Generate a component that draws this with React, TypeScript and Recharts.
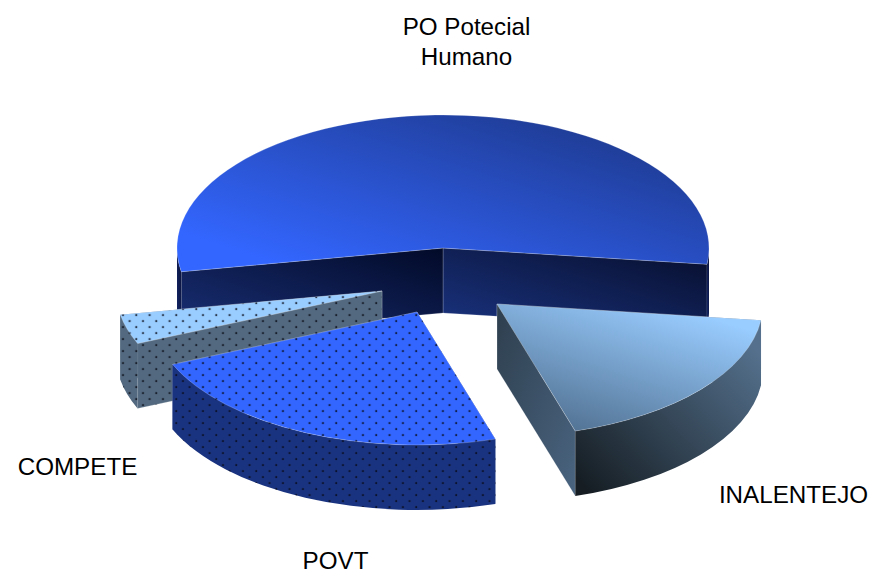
import React from 'react';
import { PieChart, Pie, Cell } from 'recharts';

const categories = ['PO Potecial Humano', 'COMPETE', 'POVT', 'INALENTEJO'];
const shares = [54.8, 3.6, 23.3, 18.3];

const chartData = categories.map((name, i) => ({ name, value: shares[i] }));

const DEPTH = 65;
const TILT = 0.5;

// how far each slice is pulled out of the pie, in pixels
const EXPLODE: Record<string, [number, number]> = {
  'PO Potecial Humano': [0, 0],
  COMPETE: [-61, 43],
  POVT: [-26, 64],
  INALENTEJO: [54, 56],
};

const SKIN: Record<string, any> = {
  'PO Potecial Humano': {
    top: [['#3366ff', '#1c3686'], [0.05, 0.8, 0.9, 0]],
    start: [['#1a3380', '#070e2c'], [0, 1, 1, 0]],
    end: [['#1a3078', '#020a28'], [0, 1, 1, 0]],
    outer: [['#14276c', '#0a1238'], [0, 1, 1, 0]],
    dots: false,
  },
  COMPETE: {
    top: [['#99ccff', '#99ccff'], [0, 0, 1, 0]],
    start: [['#53697f', '#53697f'], [0, 0, 1, 0]],
    end: [['#53697f', '#53697f'], [0, 0, 1, 0]],
    outer: [['#53697f', '#53697f'], [0, 0, 1, 0]],
    dots: true,
  },
  POVT: {
    top: [['#3366ff', '#3366ff'], [0, 0, 1, 0]],
    start: [['#1a3380', '#1a3380'], [0, 0, 1, 0]],
    end: [['#1a3380', '#1a3380'], [0, 0, 1, 0]],
    outer: [['#1a3380', '#1a3380'], [0, 0, 1, 0]],
    dots: true,
  },
  INALENTEJO: {
    top: [['#4f6f8f', '#99ccff'], [0.2, 1, 0.8, 0.1]],
    start: [['#4a6480', '#2e3f4e'], [1, 1, 0, 0]],
    end: [['#4a6480', '#2e3f4e'], [1, 1, 0, 0]],
    outer: [['#161e24', '#54708c'], [0.1, 1, 1, 0.2]],
    dots: false,
  },
};

const LABELS: Record<string, { x: number; y: number; lines: string[] }> = {
  'PO Potecial Humano': { x: 466.5, y: 35, lines: ['PO Potecial', 'Humano'] },
  COMPETE: { x: 77.5, y: 475, lines: ['COMPETE'] },
  POVT: { x: 335.5, y: 569, lines: ['POVT'] },
  INALENTEJO: { x: 793.5, y: 503, lines: ['INALENTEJO'] },
};

const Gradient = ({ id, spec }: any) => {
  const [stops, dir] = spec;
  return (
    <linearGradient id={id} x1={dir[0]} y1={dir[1]} x2={dir[2]} y2={dir[3]}>
      <stop offset="0%" stopColor={stops[0]} />
      <stop offset="100%" stopColor={stops[1]} />
    </linearGradient>
  );
};

// Extruded slice, built from the angles Recharts computed for the sector
const Slice3D = (props: any) => {
  const { cx, cy, outerRadius, startAngle, endAngle } = props;
  const name = props.name ?? props.payload?.name;
  const [dx, dy] = EXPLODE[name];
  const skin = SKIN[name];
  const key = categories.indexOf(name);
  const ox = cx + dx;
  const oy = cy + dy;
  const rx = outerRadius;
  const ry = outerRadius * TILT;

  const pt = (deg: number, drop = 0) => {
    const a = (deg * Math.PI) / 180;
    return `${ox + rx * Math.cos(a)} ${oy - ry * Math.sin(a) + drop}`;
  };
  const lo = Math.min(startAngle, endAngle);
  const hi = Math.max(startAngle, endAngle);

  const cut = (deg: number) =>
    `M${ox} ${oy}L${pt(deg)}L${pt(deg, DEPTH)}L${ox} ${oy + DEPTH}Z`;

  // the cut face reaching further down the screen sits in front
  const cuts = [
    { d: cut(lo), fill: `url(#start${key})`, near: -Math.sin((lo * Math.PI) / 180) },
    { d: cut(hi), fill: `url(#end${key})`, near: -Math.sin((hi * Math.PI) / 180) },
  ].sort((a, b) => a.near - b.near);

  const top = `M${ox} ${oy}L${pt(lo)}A${rx} ${ry} 0 ${hi - lo > 180 ? 1 : 0} 0 ${pt(hi)}Z`;

  // only the part of the rim on the near half of the ellipse shows
  const rims: string[] = [];
  [[-180, 0], [180, 360]].forEach(([a, b]) => {
    const s = Math.max(lo, a);
    const e = Math.min(hi, b);
    if (e > s) {
      rims.push(
        `M${pt(s)}A${rx} ${ry} 0 0 0 ${pt(e)}L${pt(e, DEPTH)}A${rx} ${ry} 0 0 1 ${pt(s, DEPTH)}Z`,
      );
    }
  });

  const edge = 'rgba(255,255,255,0.35)';
  return (
    <g>
      <defs>
        <Gradient id={`top${key}`} spec={skin.top} />
        <Gradient id={`start${key}`} spec={skin.start} />
        <Gradient id={`end${key}`} spec={skin.end} />
        <Gradient id={`outer${key}`} spec={skin.outer} />
        <pattern id={`dots${key}`} width={13.33} height={12} patternUnits="userSpaceOnUse">
          <circle cx={3} cy={3} r={1.5} fill="#0a0f1e" fillOpacity={0.22} />
          <circle cx={3} cy={3} r={0.85} fill="#05070f" />
          <circle cx={9.67} cy={9} r={1.5} fill="#0a0f1e" fillOpacity={0.22} />
          <circle cx={9.67} cy={9} r={0.85} fill="#05070f" />
        </pattern>
      </defs>
      {cuts.map((c) => (
        <g key={c.fill}>
          <path d={c.d} fill={c.fill} stroke={edge} strokeWidth={0.6} />
          {skin.dots && <path d={c.d} fill={`url(#dots${key})`} />}
        </g>
      ))}
      {rims.map((d, i) => (
        <path key={i} d={d} fill={`url(#outer${key})`} />
      ))}
      {skin.dots &&
        rims.map((d, i) => <path key={i} d={d} fill={`url(#dots${key})`} />)}
      <path d={top} fill={`url(#top${key})`} stroke={edge} strokeWidth={0.6} />
      {skin.dots && <path d={top} fill={`url(#dots${key})`} />}
    </g>
  );
};

const renderLabel = (props: any) => {
  const spot = LABELS[props.name ?? props.payload?.name];
  return (
    <text x={spot.x} y={spot.y} textAnchor="middle" fill="#000" fontSize={24.2} fontFamily="Liberation Sans">
      {spot.lines.map((line, i) => (
        <tspan key={line} x={spot.x} dy={i === 0 ? 0 : 30}>
          {line}
        </tspan>
      ))}
    </text>
  );
};

export default function App() {
  return (
    <div style={{ position: 'absolute', left: 0, top: 0, width: 874, height: 573, background: '#fff' }}>
      <PieChart width={874} height={573} margin={{ top: 0, right: 0, bottom: 0, left: 0 }}>
        <Pie
          data={chartData}
          dataKey="value"
          nameKey="name"
          cx={443}
          cy={248}
          outerRadius={266}
          startAngle={-7}
          endAngle={353}
          stroke="none"
          shape={Slice3D}
          label={renderLabel}
          labelLine={false}
          isAnimationActive={false}
        >
          {chartData.map((d) => (
            <Cell key={d.name} />
          ))}
        </Pie>
      </PieChart>
    </div>
  );
}
